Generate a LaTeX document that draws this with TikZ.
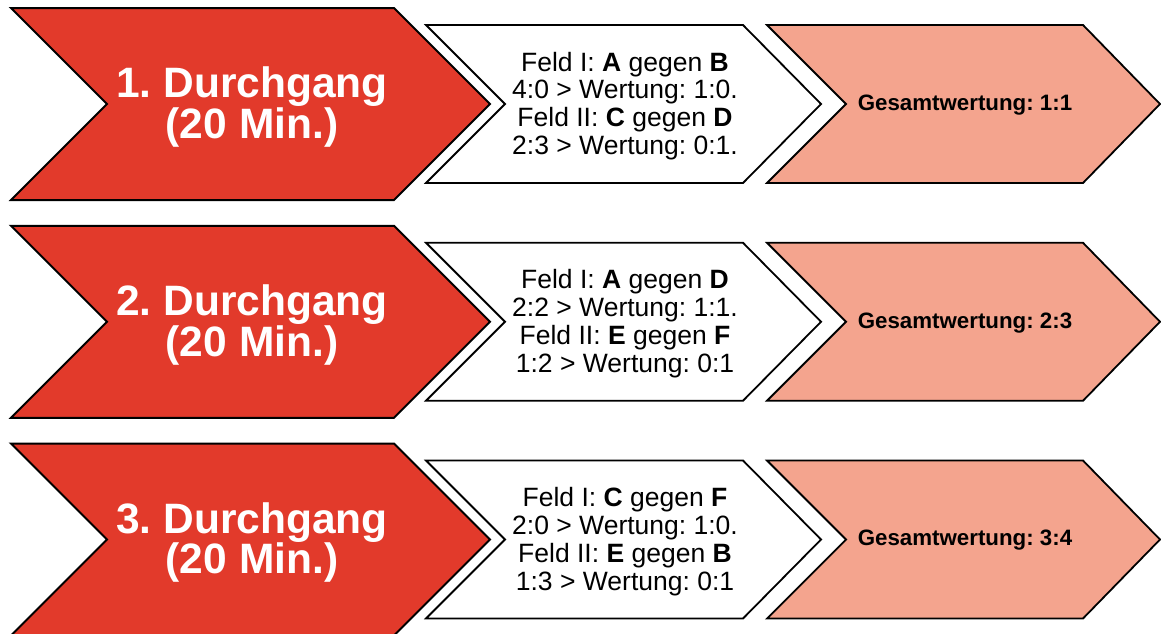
\documentclass[tikz,border=0pt]{standalone}
\usepackage{fontspec}
\setmainfont{Liberation Sans}
\frenchspacing
\definecolor{chevred}{RGB}{226,58,43}
\definecolor{chevpink}{RGB}{244,164,142}
\begin{document}
\begin{tikzpicture}[x=1pt,y=-1pt,
  redchev/.style={fill=chevred,draw=black,line width=2pt,line join=miter},
  whitechev/.style={fill=white,draw=black,line width=1.8pt,line join=miter},
  pinkchev/.style={fill=chevpink,draw=black,line width=1.8pt,line join=miter},
  redtext/.style={text=white,font=\fontsize{42.5}{39}\selectfont\bfseries,align=center,inner sep=0pt},
  midtext/.style={text=black,font=\fontsize{26.5}{27.8}\selectfont,align=center,inner sep=0pt},
  sumtext/.style={text=black,font=\fontsize{22.3}{26}\selectfont\bfseries,align=center,inner sep=0pt}]
\useasboundingbox (0,0) rectangle (1161,633);
\clip (0,0) rectangle (1161,633);
\foreach \cy/\n/\ta/\tb/\tc/\td/\g in {
  104/1/{Feld I: \textbf{A} gegen \textbf{B}}/{4:0 > Wertung: 1:0.}/{Feld II: \textbf{C} gegen \textbf{D}}/{2:3 > Wertung: 0:1.}/{1:1},
  321.75/2/{Feld I: \textbf{A} gegen \textbf{D}}/{2:2 > Wertung: 1:1.}/{Feld II: \textbf{E} gegen \textbf{F}}/{1:2 > Wertung: 0:1}/{2:3},
  539.5/3/{Feld I: \textbf{C} gegen \textbf{F}}/{2:0 > Wertung: 1:0.}/{Feld II: \textbf{E} gegen \textbf{B}}/{1:3 > Wertung: 0:1}/{3:4}}{
  \draw[redchev] (11,\cy-96) -- (394,\cy-96) -- (490,\cy) -- (394,\cy+96) -- (11,\cy+96) -- (107,\cy) -- cycle;
  \draw[whitechev] (426,\cy-79) -- (743,\cy-79) -- (821,\cy) -- (743,\cy+79) -- (426,\cy+79) -- (505,\cy) -- cycle;
  \draw[pinkchev] (767,\cy-79) -- (1083,\cy-79) -- (1160,\cy) -- (1083,\cy+79) -- (767,\cy+79) -- (846,\cy) -- cycle;
  \node[redtext] (run\n) at (252,\cy+3) {\n. Durchgang\\(20 Min.)};
  \node[midtext] (games\n) at (625,\cy+2) {\ta\\\tb\\\tc\\\td};
  \node[sumtext] (total\n) at (965,\cy+1) {Gesamtwertung: \g};
}
\end{tikzpicture}
\end{document}
